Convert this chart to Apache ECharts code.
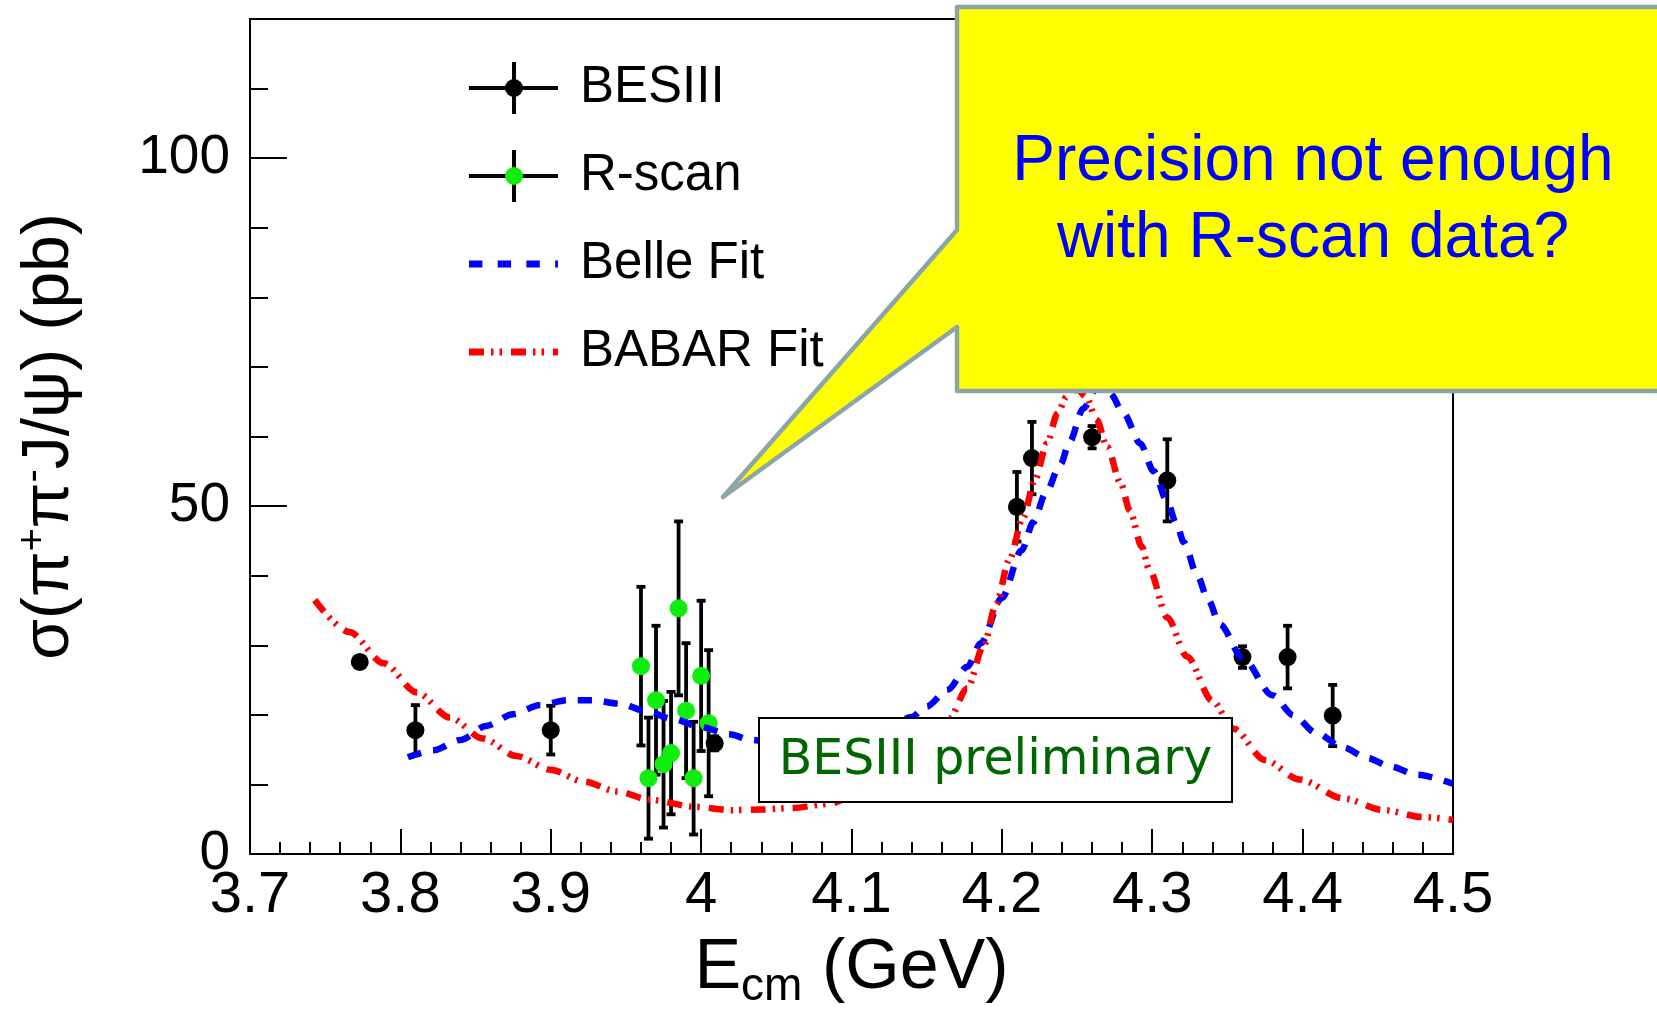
<!DOCTYPE html>
<html>
<head>
<meta charset="utf-8">
<title>σ(π+π-J/ψ) cross section</title>
<script src="https://cdn.jsdelivr.net/npm/echarts@6/dist/echarts.min.js"></script>
<style>
  html, body { margin: 0; padding: 0; background: #ffffff; }
  #chart { width: 1657px; height: 1010px; }
</style>
</head>
<body>
<div id="chart"></div>
<script>
// ---- BESIII XYZ points: E_cm (GeV), cross section (pb), symmetric error (pb)
const besE   = [3.773, 3.810, 3.900, 4.009, 4.210, 4.220, 4.260, 4.310, 4.360, 4.390, 4.420];
const besSig = [27.6, 17.8, 17.8, 15.9, 49.9, 56.9, 59.9, 53.7, 28.3, 28.3, 19.9];
const besErr = [0.8, 3.6, 3.5, 1.0, 5.0, 5.2, 1.6, 5.9, 1.55, 4.5, 4.4];

// ---- R-scan points
const rsE   = [3.960, 3.965, 3.970, 3.975, 3.980, 3.985, 3.990, 3.995, 4.000, 4.005];
const rsSig = [27.0, 10.9, 22.1, 12.9, 14.5, 35.3, 20.6, 10.9, 25.6, 18.8];
const rsErr = [11.4, 8.7, 10.7, 9.1, 8.8, 12.5, 9.7, 8.1, 10.8, 10.5];

// ---- Belle fit curve
const belleE = [3.805, 3.822, 3.840, 3.857, 3.875, 3.893, 3.911, 3.928, 3.946, 3.964, 3.981, 3.999,
                4.019, 4.033, 4.050, 4.070, 4.090, 4.110, 4.125, 4.140, 4.150, 4.164, 4.177, 4.186,
                4.200, 4.213, 4.221, 4.229, 4.239, 4.245, 4.254, 4.264, 4.272, 4.281, 4.292, 4.301,
                4.310, 4.316, 4.321, 4.330, 4.337, 4.345, 4.360, 4.380, 4.394, 4.409, 4.427, 4.443,
                4.458, 4.476, 4.500];
const belleV = [13.9, 14.9, 16.4, 18.4, 20.1, 21.4, 22.1, 22.1, 21.6, 20.5, 19.4, 18.3,
                17.2, 16.4, 15.9, 15.6, 16.2, 17.2, 18.3, 19.7, 21.2, 23.6, 26.9, 30.3,
                36.8, 43.6, 47.7, 51.8, 56.0, 59.2, 64.0, 67.3, 66.2, 63.3, 59.0, 55.0,
                50.6, 47.5, 44.8, 40.0, 36.6, 33.0, 28.2, 22.8, 19.9, 17.4, 15.3, 13.8,
                12.6, 11.4, 10.1];

// ---- BABAR fit curve
const babarE = [3.743, 3.766, 3.789, 3.811, 3.833, 3.855, 3.877, 3.900, 3.922, 3.944, 3.966, 3.995,
                4.021, 4.040, 4.060, 4.085, 4.100, 4.120, 4.140, 4.165, 4.177, 4.188, 4.196, 4.205,
                4.214, 4.222, 4.230, 4.237, 4.243, 4.250, 4.256, 4.263, 4.270, 4.279, 4.285, 4.293,
                4.298, 4.310, 4.323, 4.340, 4.354, 4.375, 4.398, 4.427, 4.454, 4.480, 4.500];
const babarV = [36.5, 31.9, 27.4, 23.2, 19.6, 16.6, 14.1, 12.1, 10.4, 9.0, 7.8, 6.8,
                6.3, 6.4, 6.6, 7.2, 8.2, 10.5, 13.8, 19.5, 23.8, 30.0, 35.8, 42.3,
                48.3, 53.8, 59.0, 63.3, 65.7, 66.8, 65.7, 62.4, 58.5, 53.3, 49.4, 44.2,
                40.9, 34.0, 28.4, 22.0, 18.0, 13.5, 10.7, 8.0, 6.3, 5.3, 4.9];

// ---- axis ranges and tick labels
const X_MIN = 3.7, X_MAX = 4.5, X_STEP = 0.1;
const Y_MIN = 0, Y_MAX = 120, Y_STEP = 50, Y_MINOR = 10;
const xTickLabels = ['3.7', '3.8', '3.9', '4', '4.1', '4.2', '4.3', '4.4', '4.5'];
const yTickLabels = ['0', '50', '100'];

const FONT = '"Liberation Sans", Arial, Helvetica, sans-serif';
const GREEN = '#10ee10';

function errorBarRender(params, api) {
  const x = api.value(0);
  const lo = api.coord([x, api.value(1)]);
  const hi = api.coord([x, api.value(2)]);
  const cap = 4.5;
  const st = { stroke: '#000', lineWidth: 3.8 };
  return {
    type: 'group',
    children: [
      { type: 'line', shape: { x1: lo[0], y1: lo[1], x2: hi[0], y2: hi[1] }, style: st },
      { type: 'line', shape: { x1: lo[0] - cap, y1: lo[1], x2: lo[0] + cap, y2: lo[1] }, style: st },
      { type: 'line', shape: { x1: hi[0] - cap, y1: hi[1], x2: hi[0] + cap, y2: hi[1] }, style: st }
    ]
  };
}

function icon(body) {
  const svg = '<svg xmlns="http://www.w3.org/2000/svg" width="106" height="56" viewBox="0 0 106 56">' + body + '</svg>';
  return 'image://data:image/svg+xml;charset=utf-8,' + encodeURIComponent(svg);
}
const crossBody = '<line x1="0" y1="28" x2="89" y2="28" stroke="#000" stroke-width="4"/>' +
                  '<line x1="45" y1="2" x2="45" y2="54" stroke="#000" stroke-width="4"/>';

const chart = echarts.init(document.getElementById('chart'), null, { renderer: 'canvas' });

chart.setOption({
  animation: false,
  backgroundColor: '#ffffff',
  grid: {
    left: 250, right: 204, top: 19, bottom: 156,
    containLabel: false,
    outerBoundsMode: 'none',
    show: true, borderColor: '#000', borderWidth: 2, backgroundColor: 'transparent'
  },
  legend: {
    orient: 'vertical',
    left: 469, top: 60,
    padding: 0,
    itemWidth: 106, itemHeight: 56, itemGap: 32,
    symbolKeepAspect: false,
    selectedMode: false,
    textStyle: { fontSize: 51, fontFamily: FONT, color: '#000' },
    data: [
      { name: 'BESIII', icon: icon(crossBody + '<circle cx="45" cy="28" r="9" fill="#000"/>') },
      { name: 'R-scan', icon: icon(crossBody + '<circle cx="45" cy="28" r="9" fill="' + GREEN + '"/>') },
      { name: 'Belle Fit', icon: icon('<line x1="0" y1="28" x2="89" y2="28" stroke="#0000ff" stroke-width="7" stroke-dasharray="13.4 15.3"/>') },
      { name: 'BABAR Fit', icon: icon('<line x1="0" y1="28" x2="89" y2="28" stroke="#ff0000" stroke-width="7" stroke-dasharray="15 7 2.5 6 2.5 9"/>') }
    ]
  },
  xAxis: {
    type: 'value',
    min: X_MIN, max: X_MAX, interval: X_STEP,
    name: '{b|E}{s|cm}{b| (GeV)}',
    nameLocation: 'middle',
    nameGap: 74,
    nameTextStyle: {
      rich: {
        b: { fontSize: 70, lineHeight: 76, verticalAlign: 'top', fontFamily: FONT, color: '#000' },
        s: { fontSize: 46, lineHeight: 46, padding: [34, 0, 0, 0], verticalAlign: 'bottom', fontFamily: FONT, color: '#000' }
      }
    },
    axisLine: { show: true, onZero: false, lineStyle: { color: '#000', width: 2 } },
    axisTick: { show: true, inside: true, length: 25, lineStyle: { color: '#000', width: 2 } },
    minorTick: { show: true, splitNumber: 5, length: 12, lineStyle: { color: '#000', width: 2 } },
    splitLine: { show: false },
    minorSplitLine: { show: false },
    axisLabel: {
      show: true, margin: 13, fontSize: 58, fontFamily: FONT, color: '#000',
      showMinLabel: true, showMaxLabel: true,
      formatter: v => {
        const i = Math.round((v - X_MIN) / X_STEP);
        return xTickLabels[i] !== undefined ? xTickLabels[i] : '';
      }
    }
  },
  yAxis: [
    {
      type: 'value',
      position: 'left',
      min: Y_MIN, max: Y_MAX, interval: Y_STEP,
      name: '{b|σ(π}{p|+}{b|π}{p|-}{b|J/ψ) (pb)}',
      nameLocation: 'middle',
      nameGap: 164,
      nameTextStyle: {
        rich: {
          b: { fontSize: 66, lineHeight: 72, fontFamily: FONT, color: '#000' },
          p: { fontSize: 40, lineHeight: 40, verticalAlign: 'top', fontFamily: FONT, color: '#000' }
        }
      },
      axisLine: { show: true, onZero: false, lineStyle: { color: '#000', width: 2 } },
      axisTick: { show: true, inside: true, length: 37, lineStyle: { color: '#000', width: 2 } },
      splitLine: { show: false },
      axisLabel: {
        show: true, margin: 20, fontSize: 55, fontFamily: FONT, color: '#000',
        showMaxLabel: false,
        formatter: v => {
          const i = Math.round(v / Y_STEP);
          return (Math.abs(v - i * Y_STEP) < 1e-6 && yTickLabels[i] !== undefined) ? yTickLabels[i] : '';
        }
      }
    },
    {
      // secondary scale carrying the 10 pb minor ticks
      type: 'value',
      position: 'left',
      min: Y_MIN, max: Y_MAX, interval: Y_MINOR,
      axisLine: { show: false },
      axisTick: { show: true, inside: true, length: 18, lineStyle: { color: '#000', width: 2 } },
      axisLabel: { show: false },
      splitLine: { show: false }
    }
  ],
  series: [
    {
      name: 'BESIII', type: 'custom', z: 2,
      renderItem: errorBarRender,
      encode: { x: 0, y: [1, 2] },
      data: besE.map((e, i) => [e, besSig[i] - besErr[i], besSig[i] + besErr[i]])
    },
    {
      name: 'BESIII', type: 'scatter', z: 3,
      symbol: 'circle', symbolSize: 18,
      itemStyle: { color: '#000', opacity: 1 },
      data: besE.map((e, i) => [e, besSig[i]])
    },
    {
      name: 'R-scan', type: 'custom', z: 4,
      renderItem: errorBarRender,
      encode: { x: 0, y: [1, 2] },
      data: rsE.map((e, i) => [e, rsSig[i] - rsErr[i], rsSig[i] + rsErr[i]])
    },
    {
      name: 'R-scan', type: 'scatter', z: 5,
      symbol: 'circle', symbolSize: 18,
      itemStyle: { color: GREEN, opacity: 1 },
      data: rsE.map((e, i) => [e, rsSig[i]])
    },
    {
      name: 'Belle Fit', type: 'line', z: 6,
      showSymbol: false, symbol: 'none',
      smooth: 0.3, smoothMonotone: 'x',
      lineStyle: { color: '#0000ff', width: 6.5, type: [14, 12] },
      data: belleE.map((e, i) => [e, belleV[i]])
    },
    {
      name: 'BABAR Fit', type: 'line', z: 7,
      showSymbol: false, symbol: 'none',
      smooth: 0.3, smoothMonotone: 'x',
      lineStyle: { color: '#ff0000', width: 6.5, type: [15, 7, 2.5, 6, 2.5, 9] },
      data: babarE.map((e, i) => [e, babarV[i]])
    }
  ],
  graphic: [
    {
      type: 'rect', z: 100,
      shape: { x: 759, y: 718, width: 473, height: 84 },
      style: { fill: '#ffffff', stroke: '#000', lineWidth: 2 }
    },
    {
      type: 'text', z: 101,
      style: {
        x: 995.5, y: 761, text: 'BESIII preliminary',
        fontSize: 49, fontFamily: '"DejaVu Sans", Verdana, sans-serif',
        fill: '#006600', align: 'center', verticalAlign: 'middle'
      }
    },
    {
      type: 'polygon', z: 100,
      shape: { points: [[957, 7], [1680, 7], [1680, 391], [957, 391], [957, 327], [723, 497], [957, 230]] },
      style: { fill: '#ffff00', stroke: '#8ca6a8', lineWidth: 4.5, lineJoin: 'round' }
    },
    {
      type: 'text', z: 101,
      style: {
        x: 1313, y: 201, text: 'Precision not enough\nwith R-scan data?',
        fontSize: 64, lineHeight: 77, fontFamily: FONT,
        fill: '#0000ff', align: 'center', verticalAlign: 'middle'
      }
    }
  ]
});
</script>
</body>
</html>
